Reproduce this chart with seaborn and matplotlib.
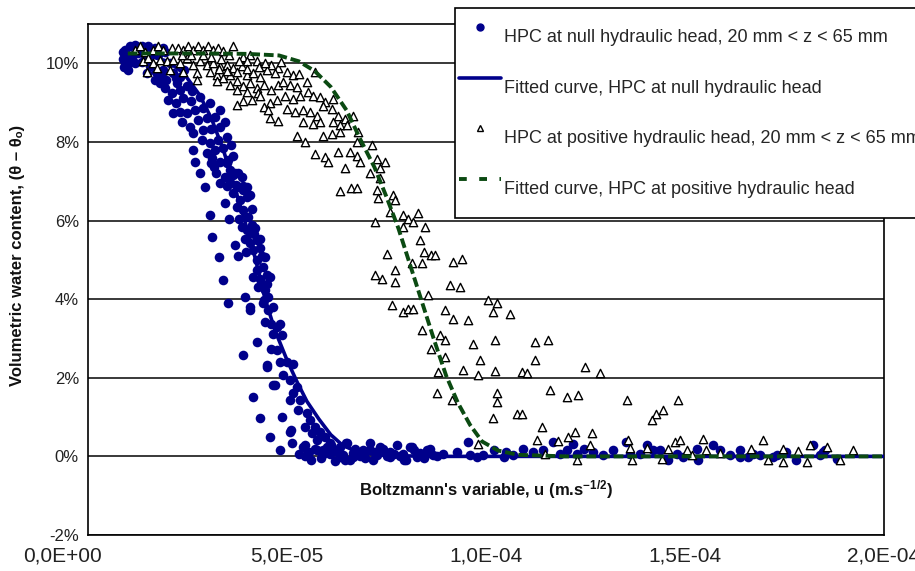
import numpy as np
import pandas as pd
import matplotlib
matplotlib.use("Agg")
import matplotlib.pyplot as plt
import matplotlib.transforms as mtransforms
import seaborn as sns
from matplotlib.ticker import FuncFormatter
from matplotlib.lines import Line2D

# --- Data (u in 1e-5 m.s^-1/2, theta in %) ---
# HPC at null hydraulic head, measured points
null_u_top = [0.88, 0.87, 0.90, 1.00, 0.93, 1.06, 1.18, 1.35, 1.51, 1.68, 1.89,
              0.97, 1.14, 1.26, 1.43, 1.60, 1.77, 1.93,
              0.93, 1.06, 0.97, 1.18, 1.35, 1.51, 1.56, 1.47, 1.72, 1.89, 1.68, 1.85, 1.97, 1.81,
              2.06, 2.14, 2.23, 2.31, 2.40]
null_th_top = [10.30, 10.10, 9.90, 9.82, 10.34, 10.43, 10.47, 10.43, 10.43, 10.38, 10.38,
               10.17, 10.21, 10.26, 10.21, 10.26, 10.21, 10.30,
               10.00, 10.04, 9.87, 10.00, 10.04, 10.09, 9.92, 9.75, 9.79, 9.83, 9.58, 9.66, 9.58, 9.49,
               10.00, 9.75, 9.49, 9.66, 9.83]

null_u_upper = [1.93, 2.10, 2.31, 2.48, 2.01, 2.22, 2.39, 2.60, 2.81, 2.14, 2.31, 2.48, 2.69,
                2.90, 3.07, 2.35, 2.56, 2.77, 2.98, 3.18, 3.32, 2.65, 2.90, 3.10, 3.32, 3.44,
                2.20, 2.62]
null_th_upper = [9.37, 9.24, 9.32, 9.41, 9.07, 8.98, 9.11, 9.03, 9.15, 8.73, 8.77, 8.73, 8.81,
                 8.86, 8.98, 8.51, 8.39, 8.56, 8.60, 8.64, 8.81, 8.22, 8.30, 8.34, 8.39, 8.51,
                 9.62, 9.30]

null_u_mid = [2.86, 3.07, 3.27, 3.48, 2.98, 3.18, 3.39, 3.60, 3.10, 3.32, 3.52, 3.65, 3.22,
              3.44, 3.69, 3.48, 3.73, 3.90,
              3.48, 3.57, 3.65, 3.78, 3.86, 3.57, 3.74, 3.90, 3.99, 3.65, 3.82, 3.99, 4.07,
              3.74, 3.90, 3.86, 3.99, 4.11, 4.20, 3.94, 4.07, 4.24, 4.32, 4.15, 4.32, 4.45,
              4.24, 4.40, 4.15, 4.32, 4.49, 4.57, 4.28, 4.45, 4.53, 4.66, 4.40,
              4.02, 4.12, 3.80, 4.18, 3.98, 4.38, 4.25, 4.50]
null_th_mid = [8.04, 7.96, 8.04, 8.13, 7.71, 7.80, 7.84, 7.92, 7.46, 7.50, 7.54, 7.63, 7.20,
               7.12, 7.20, 6.87, 6.90, 6.87,
               7.46, 7.29, 7.16, 7.20, 7.12, 6.95, 6.86, 6.78, 6.86, 6.69, 6.52, 6.60, 6.65,
               6.35, 6.27, 5.84, 5.76, 5.89, 5.80, 5.54, 5.42, 5.50, 5.54, 5.25, 5.29, 5.08,
               4.99, 4.82, 4.57, 4.52, 4.61, 4.57, 4.31, 4.23, 4.06, 3.80, 3.89,
               6.10, 6.30, 6.05, 5.65, 5.20, 5.10, 4.75, 4.38]

null_u_left = [2.65, 2.69, 2.81, 2.94, 3.07, 3.12, 3.28, 3.39, 3.53, 3.12, 3.16, 3.32, 3.44,
               3.55, 3.69, 3.78, 3.94, 4.07,
               3.90, 4.07, 4.24, 4.15, 4.32, 4.49, 4.57, 4.70, 4.82, 4.87, 5.07, 5.12, 5.41,
               5.45, 4.49, 4.66, 5.11]
null_th_left = [7.80, 7.50, 7.22, 6.86, 6.14, 5.59, 5.08, 4.50, 3.91, 7.58, 7.37, 6.95, 6.44,
                6.03, 5.38, 5.10, 4.06, 3.80,
                2.57, 3.72, 2.92, 1.51, 0.97, 2.28, 0.50, 1.82, 0.16, 1.01, 0.63, 0.33, 0.24,
                0.00, 2.32, 1.81, 0.66]

null_u_low = [4.41, 4.53, 4.45, 4.61, 4.74, 4.82, 4.66, 4.87, 4.61, 4.74, 4.82, 4.99, 5.16,
              4.91, 5.07, 5.24, 5.16, 5.33, 5.07, 5.28, 5.49, 5.58, 5.45, 5.70, 5.62, 5.83,
              5.75, 5.95, 6.08, 5.91, 6.16]
null_th_low = [3.97, 3.72, 3.42, 3.38, 3.29, 3.38, 3.12, 3.08, 2.74, 2.70, 2.40, 2.40, 2.36,
               2.06, 1.94, 1.77, 1.60, 1.43, 1.43, 1.18, 1.10, 0.92, 0.76, 0.76, 0.59, 0.63,
               0.41, 0.50, 0.33, 0.16, 0.16]

null_u_flat = [6.33, 6.49, 6.41, 6.66, 6.83, 7.08, 7.34, 7.59, 7.84, 8.09, 8.34, 8.59, 8.76,
               6.58, 7.17, 7.50, 8.00,
               5.75, 6.08, 6.33, 6.50, 6.67, 6.92, 7.09, 7.25, 7.42, 7.59, 7.76, 7.92, 8.13,
               8.26, 8.51, 8.68, 8.93, 9.26, 9.60, 9.56, 9.77, 9.93, 10.19, 10.44, 10.50,
               10.69, 10.94, 11.19,
               5.30, 5.45, 5.60, 5.70, 5.85, 6.00, 6.20, 6.25, 6.45, 5.55, 5.90, 6.10, 6.70,
               6.95, 7.20, 7.70, 7.95, 8.20, 8.45]
null_th_flat = [0.25, 0.33, 0.04, 0.08, 0.00, 0.16, 0.25, 0.12, 0.00, 0.25, 0.08, 0.20, 0.00,
                -0.08, -0.08, 0.00, -0.08,
                0.15, 0.07, -0.02, 0.33, -0.02, 0.15, 0.33, 0.03, 0.20, -0.02, 0.29, 0.07, 0.24,
                -0.02, 0.15, 0.03, 0.07, 0.11, 0.03, 0.37, -0.02, 0.03, 0.15, -0.02, 0.10,
                0.03, 0.20, 0.11,
                0.05, 0.28, -0.10, 0.20, -0.05, 0.25, -0.12, 0.10, -0.10, 0.12, 0.05, 0.30, 0.20,
                -0.05, 0.10, 0.05, -0.10, 0.15, -0.05]

null_u_right = [11.44, 11.69, 11.86, 12.03, 12.19, 12.28, 12.45, 12.70, 12.95, 13.20, 13.53,
                13.62, 13.87, 14.04, 14.20, 14.37, 14.58, 14.79, 14.96, 15.29, 15.33, 15.71,
                15.88, 16.13, 16.38, 16.59, 16.88, 17.22, 17.55, 17.80, 18.22, 18.47, 18.81,
                16.38, 16.72, 17.30, 18.39, 18.51]
null_th_right = [0.15, 0.37, 0.07, 0.15, 0.32, 0.07, 0.20, 0.11, 0.03, 0.15, 0.37,
                 0.07, 0.07, 0.28, 0.15, 0.15, -0.10, 0.07, -0.02, 0.20, -0.10, 0.28,
                 0.15, 0.03, 0.15, -0.02, 0.03, -0.02, 0.11, -0.10, 0.28, 0.11, -0.06,
                 -0.02, 0.07, 0.03, 0.03, 0.15]

# HPC at positive hydraulic head, measured points
pos_u_top = [1.18, 1.31, 1.43, 1.64, 1.77, 1.89, 2.10, 2.27, 2.39, 2.52, 2.65, 2.77, 2.90,
             3.02, 3.15, 3.27, 3.40, 3.65, 3.90, 4.07,
             1.39, 1.52, 1.64, 1.81, 1.98, 2.14, 2.31, 2.48, 2.65, 2.81, 2.98, 3.15, 3.32,
             3.48, 3.65, 3.86, 3.99, 4.24, 4.41, 4.61, 4.78,
             1.48, 1.73, 2.06, 2.39, 2.73, 3.07, 3.23, 3.40, 3.57, 3.74, 3.99, 4.15, 4.32,
             4.49, 4.70, 2.73,
             2.90, 3.10, 3.35, 3.55, 3.80, 4.00, 3.30, 3.50, 2.60, 2.35, 4.30, 4.45]
pos_th_top = [10.35, 10.43, 10.30, 10.35, 10.43, 10.35, 10.39, 10.39, 10.35, 10.43, 10.35,
              10.43, 10.35, 10.43, 10.35, 10.39, 10.32, 10.43, 10.17, 10.22,
              10.05, 10.13, 10.00, 10.09, 10.05, 10.09, 10.00, 10.13, 9.96, 10.05, 9.96, 10.00,
              9.92, 9.96, 9.88, 9.92, 10.05, 10.05, 9.92, 9.96, 9.88,
              9.79, 9.88, 9.83, 9.79, 9.75, 9.79, 9.71, 9.62, 9.71, 9.79, 9.71, 9.75, 9.66,
              9.83, 9.75, 9.58,
              10.20, 10.15, 10.10, 10.20, 10.05, 9.85, 9.85, 9.80, 10.20, 10.20, 9.90, 10.00]

pos_u_mid = [3.23, 3.57, 3.74, 3.90, 4.07, 4.24, 4.41, 4.61, 4.78, 3.74, 3.99, 4.28,
             3.74, 3.90, 4.11, 4.32, 4.41, 4.57, 4.74, 4.53, 4.57, 4.78,
             4.86, 4.99, 5.16, 5.29, 4.91, 5.08, 5.24, 5.49, 5.70, 4.95, 5.16, 5.33, 5.54,
             5.66, 5.83, 5.96, 6.16, 4.99, 5.20, 5.41, 5.58, 5.75, 5.91, 6.12, 6.29, 6.46,
             6.67, 5.41, 5.66, 5.83, 6.16, 6.33, 6.50, 6.79, 5.24, 5.45, 5.91, 6.12, 6.33,
             6.75, 7.13, 5.70, 5.96, 6.04, 6.29, 6.46, 6.58, 6.75, 6.83, 7.09, 7.25, 7.34,
             7.46, 7.34, 6.33, 6.62, 6.75]
pos_th_mid = [9.54, 9.45, 9.54, 9.41, 9.49, 9.37, 9.45, 9.33, 9.45, 9.33, 9.28, 9.24,
              8.94, 9.03, 9.07, 9.16, 8.90, 8.99, 9.07, 8.81, 8.60, 8.52,
              10.03, 9.78, 9.69, 9.74, 9.52, 9.44, 9.40, 9.52, 9.78, 9.18, 9.10, 9.18, 9.27,
              9.18, 9.14, 9.01, 9.10, 8.84, 8.75, 8.80, 8.75, 8.67, 8.92, 8.84, 8.67, 8.58,
              8.67, 8.50, 8.46, 8.50, 8.50, 8.42, 8.42, 8.25, 8.16, 7.99, 8.16, 8.20, 8.25,
              7.99, 7.91, 7.70, 7.61, 7.50, 7.74, 7.33, 7.74, 7.65, 7.50, 7.20, 7.57, 7.33,
              7.50, 7.07, 6.74, 6.83, 6.83]

pos_u_fall = [7.25, 7.29, 7.67, 7.71, 7.59, 7.92, 8.05, 8.17, 8.30, 8.47, 7.21, 7.92, 8.34,
              7.50, 8.43, 8.13, 8.38, 8.63, 8.71, 9.18, 9.39, 7.21, 7.38, 7.71, 7.71, 9.09,
              9.35, 8.55, 10.06, 10.27, 7.63, 7.92, 8.05, 8.17, 8.97, 10.18, 10.60, 9.18,
              9.56, 8.38, 8.84, 8.97, 10.23, 9.68, 11.23, 11.56, 8.63, 8.97, 9.85, 11.23,
              9.43, 10.23, 10.90, 11.02, 9.81, 8.80, 8.76, 10.27,
              10.27, 10.18, 10.77, 10.90, 11.27, 9.81, 9.14]
pos_th_fall = [6.78, 6.57, 6.65, 6.52, 6.22, 6.14, 6.05, 5.97, 6.18, 5.84, 5.97, 5.84, 5.50,
               5.16, 5.20, 4.91, 4.91, 5.12, 5.12, 4.95, 5.03, 4.61, 4.52, 4.74, 4.44, 4.36,
               4.31, 4.10, 3.97, 3.89, 3.84, 3.68, 3.76, 3.76, 3.72, 3.68, 3.63, 3.50,
               3.46, 3.21, 3.08, 2.96, 2.96, 2.87, 2.91, 2.96, 2.74, 2.53, 2.45, 2.45,
               2.21, 2.17, 2.15, 2.11, 2.06, 2.15, 1.60, 1.60,
               1.38, 0.98, 1.08, 1.08, 0.41, 0.32, 1.43]

pos_u_tail = [12.49, 12.87, 11.61, 12.03, 12.32, 13.55, 14.83, 14.45, 14.27, 14.16, 11.40,
              12.66, 12.24, 12.07, 11.82, 13.58, 14.75, 14.87, 15.46, 16.97, 18.14, 18.56,
              19.23, 12.61, 14.04, 14.58, 15.04, 15.54, 16.67, 17.47, 17.85, 11.48, 13.62,
              12.28, 13.66, 14.41, 15.17, 15.88, 17.09, 17.47, 18.06, 18.90]
pos_th_tail = [2.28, 2.12, 1.68, 1.50, 1.55, 1.44, 1.44, 1.19, 1.07, 0.93, 0.75,
               0.60, 0.62, 0.49, 0.39, 0.42, 0.37, 0.42, 0.45, 0.42, 0.28, 0.24,
               0.17, 0.28, 0.22, 0.20, 0.15, 0.17, 0.20, 0.20, 0.14, 0.07, 0.22,
               -0.08, -0.10, -0.07, 0.03, 0.08, -0.10, -0.14, -0.14, -0.08]

# Fitted curves
null_fit_u = [1.0, 1.5, 2.0, 2.4, 2.8, 3.1, 3.4, 3.7, 3.95, 4.2, 4.45, 4.7, 5.0, 5.25, 5.5,
              5.8, 6.1, 6.4, 6.8, 7.4, 8.5, 10, 13, 16, 20]
null_fit_th = [10.25, 10.2, 10.05, 9.75, 9.2, 8.6, 7.8, 6.8, 5.95, 5.05, 4.0, 3.2, 2.45, 1.9,
               1.4, 0.95, 0.55, 0.28, 0.1, 0.03, 0, 0, 0, 0, 0]
pos_fit_u = [1.0, 2.0, 3.0, 4.0, 4.8, 5.3, 5.7, 6.1, 6.5, 6.85, 7.2, 7.5, 7.8, 8.1, 8.4, 8.7,
             9.0, 9.3, 9.6, 9.9, 10.3, 10.8, 12, 15, 20]
pos_fit_th = [10.25, 10.25, 10.25, 10.24, 10.2, 10.05, 9.8, 9.4, 8.8, 8.05, 7.35, 6.6, 5.8,
              4.85, 3.9, 2.95, 2.05, 1.35, 0.8, 0.38, 0.15, 0.04, 0, 0, 0]

labels = ["HPC at null hydraulic head, 20 mm < z < 65 mm",
          "Fitted curve, HPC at null hydraulic head",
          "HPC at positive hydraulic head, 20 mm < z < 65 mm",
          "Fitted curve, HPC at positive hydraulic head"]

# --- Frames ---
SCALE = 1e-5
null_pts = pd.DataFrame({
    "u": np.concatenate([null_u_top, null_u_upper, null_u_mid, null_u_left,
                         null_u_low, null_u_flat, null_u_right]) * SCALE,
    "theta": np.concatenate([null_th_top, null_th_upper, null_th_mid, null_th_left,
                             null_th_low, null_th_flat, null_th_right])})
pos_pts = pd.DataFrame({
    "u": np.concatenate([pos_u_top, pos_u_mid, pos_u_fall, pos_u_tail]) * SCALE,
    "theta": np.concatenate([pos_th_top, pos_th_mid, pos_th_fall, pos_th_tail])})
null_fit = pd.DataFrame({"u": np.array(null_fit_u) * SCALE, "theta": null_fit_th})
pos_fit = pd.DataFrame({"u": np.array(pos_fit_u) * SCALE, "theta": pos_fit_th})

# --- Plot ---
sns.set_theme(style="white")
plt.rcParams["font.family"] = ["Liberation Sans", "DejaVu Sans"]
plt.rcParams["mathtext.default"] = "regular"

BLUE = "#00008B"
GREEN = "#0B4A12"

fig = plt.figure(figsize=(9.15, 5.71), dpi=100)
ax = fig.add_axes([88 / 915, 1 - 535 / 571, (884 - 88) / 915, (535 - 24) / 571])

sns.scatterplot(data=null_pts, x="u", y="theta", ax=ax, color=BLUE, s=48,
                linewidth=0, zorder=2, legend=False)
sns.lineplot(data=null_fit, x="u", y="theta", ax=ax, color=BLUE, lw=2.6,
             sort=False, estimator=None, zorder=3, legend=False)
sns.scatterplot(data=pos_pts, x="u", y="theta", ax=ax, marker="^", color="white",
                edgecolor="black", linewidth=1.0, s=36, zorder=4, legend=False)
sns.lineplot(data=pos_fit, x="u", y="theta", ax=ax, color=GREEN, lw=2.8,
             linestyle=(0, (2.5, 1.0)), sort=False, estimator=None, zorder=5, legend=False)

ax.set_xlim(0, 2e-4)
ax.set_ylim(-2, 11)
ax.set_xticks([0, 5e-5, 1e-4, 1.5e-4, 2e-4])
ax.set_yticks(range(-2, 11, 2))
ax.xaxis.set_major_formatter(FuncFormatter(lambda v, p: f"{v:.1E}".replace(".", ",")))
ax.yaxis.set_major_formatter(FuncFormatter(lambda v, p: f"{v:.0f}%"))
ax.tick_params(axis="both", direction="out", length=4, width=1, color="black",
               labelcolor="#222222")
ax.tick_params(axis="x", labelsize=15, pad=4)
ax.tick_params(axis="y", labelsize=12, pad=2.5)
ax.set_xlabel("")
ax.set_ylabel("")
ax.grid(axis="y", color="#2a2a2a", lw=1.3)
ax.set_axisbelow(True)
for sp in ax.spines.values():
    sp.set_color("black")
    sp.set_linewidth(1.2)

# first x tick label sits a little left of its tick, as in the original
first = ax.get_xticklabels()[0]
first.set_transform(first.get_transform()
                    + mtransforms.ScaledTranslation(-25 / 100, 0, fig.dpi_scale_trans))

ax.text(1.0e-4, -0.85, "Boltzmann's variable, u (m.s$^{-1/2}$)", ha="center",
        va="center", fontsize=12, fontweight="bold", color="#111111")
fig.text(18 / 915, 1 - 255 / 571, "Volumetric water content, (θ – θₒ)", rotation=90,
         ha="center", va="center", fontsize=12, fontweight="bold", color="#111111")

handles = [Line2D([], [], ls="", marker="o", color=BLUE, markersize=5),
           Line2D([], [], color=BLUE, lw=2.6),
           Line2D([], [], ls="", marker="^", markerfacecolor="white",
                  markeredgecolor="black", markersize=5, markeredgewidth=1.0),
           Line2D([], [], color=GREEN, lw=2.8, ls=(0, (2, 3.2)))]
leg = ax.legend(handles, labels, loc="upper left", bbox_to_anchor=(455 / 915, 1 - 8 / 571),
                bbox_transform=fig.transFigure, frameon=True, fancybox=False,
                edgecolor="black", framealpha=1, fontsize=13, handlelength=2.32,
                handletextpad=0.2, borderpad=0.2, handleheight=3.95, labelspacing=0.0,
                borderaxespad=0)
leg.get_frame().set_linewidth(1.2)
leg.set_zorder(10)

fig.savefig("out.png", dpi=100)
